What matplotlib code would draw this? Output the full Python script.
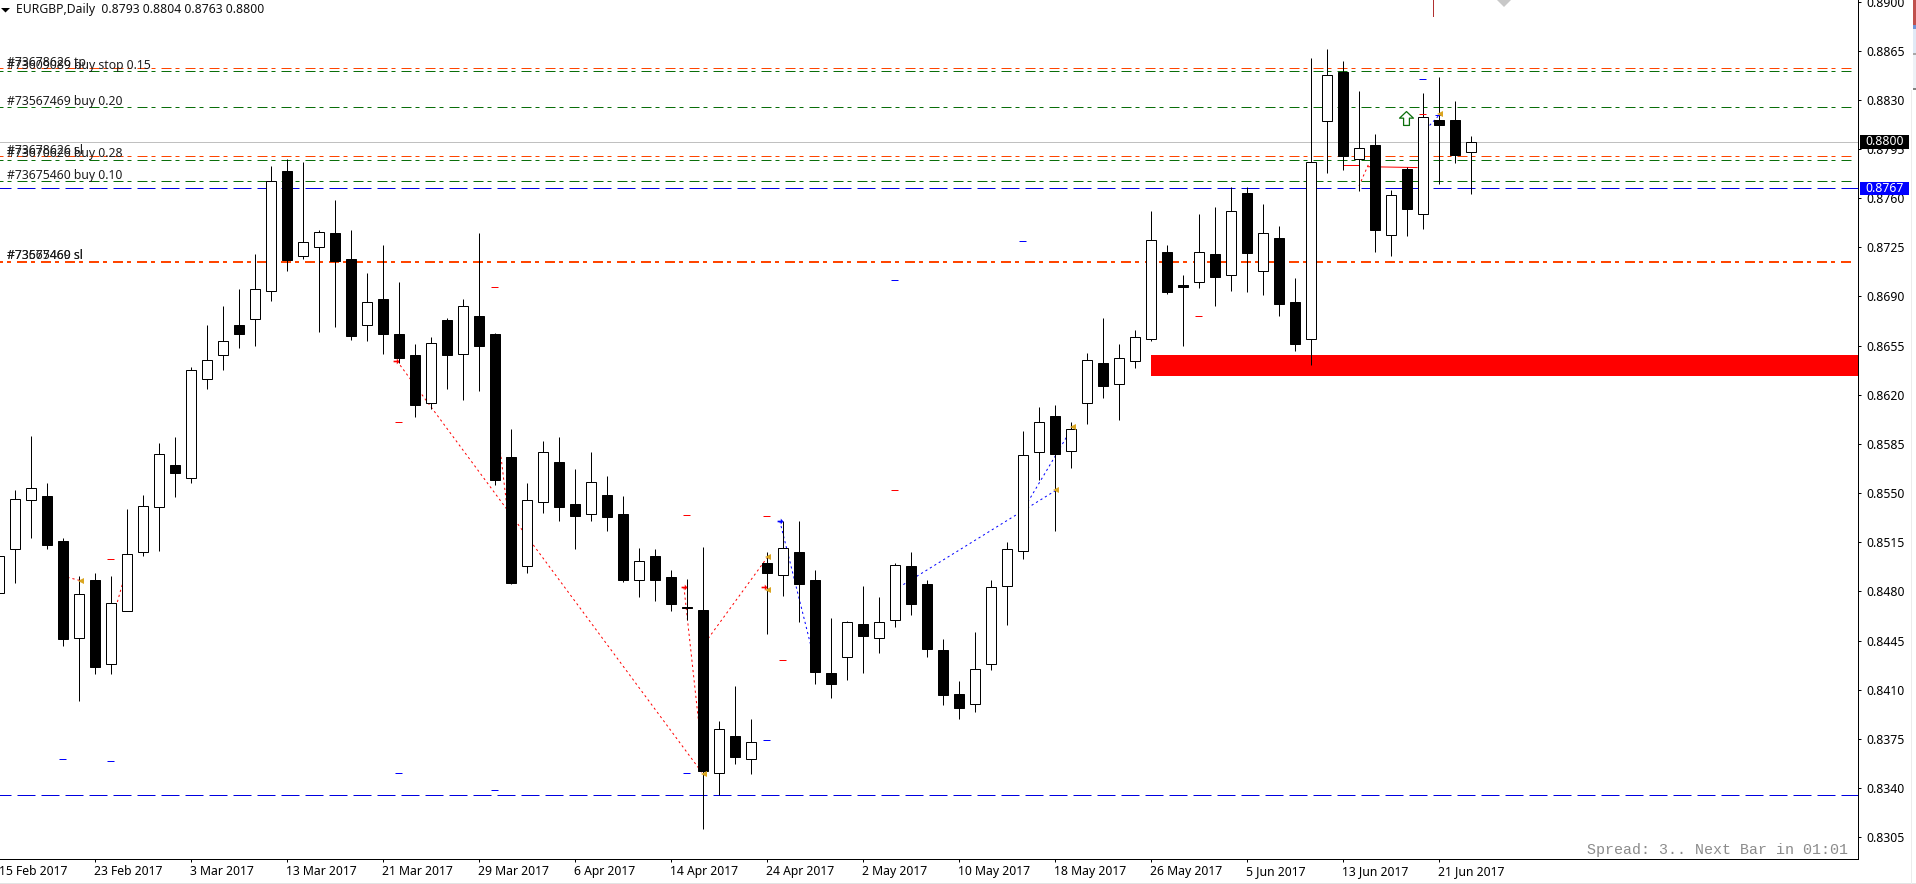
import matplotlib
matplotlib.use("Agg")
import matplotlib.pyplot as plt
from matplotlib.patches import Rectangle, Polygon
from matplotlib.path import Path
from matplotlib.transforms import blended_transform_factory

# Daily EURGBP candles, oldest first
opens = [0.8479, 0.8510, 0.8545, 0.8548, 0.8516, 0.8447, 0.8488, 0.8428, 0.8466, 0.8508,
         0.8540, 0.8570, 0.8561, 0.8631, 0.8648, 0.8670, 0.8674, 0.8694, 0.8779, 0.8719,
         0.8725, 0.8735, 0.8717, 0.8670, 0.8688, 0.8663, 0.8648, 0.8614, 0.8673, 0.8649,
         0.8676, 0.8663, 0.8576, 0.8498, 0.8544, 0.8572, 0.8542, 0.8535, 0.8549, 0.8535,
         0.8488, 0.8505, 0.8490, 0.8469, 0.8467, 0.8351, 0.8377, 0.8361, 0.8500, 0.8492,
         0.8508, 0.8488, 0.8422, 0.8433, 0.8457, 0.8447, 0.8460, 0.8498, 0.8485, 0.8438,
         0.8407, 0.8400, 0.8428, 0.8484, 0.8509, 0.8579, 0.8605, 0.8580, 0.8614, 0.8643,
         0.8628, 0.8644, 0.8660, 0.8722, 0.8698, 0.8700, 0.8720, 0.8705, 0.8764, 0.8708,
         0.8732, 0.8686, 0.8660, 0.8815, 0.8850, 0.8788, 0.8798, 0.8734, 0.8781, 0.8749,
         0.8816, 0.8816, 0.8793]
highs = [0.8511, 0.8552, 0.8591, 0.8557, 0.8518, 0.8491, 0.8493, 0.8491, 0.8539, 0.8549,
         0.8586, 0.8590, 0.8640, 0.8670, 0.8683, 0.8695, 0.8720, 0.8783, 0.8788, 0.8786,
         0.8737, 0.8759, 0.8737, 0.8707, 0.8727, 0.8700, 0.8656, 0.8661, 0.8675, 0.8688,
         0.8735, 0.8664, 0.8596, 0.8557, 0.8587, 0.8590, 0.8567, 0.8579, 0.8562, 0.8548,
         0.8511, 0.8510, 0.8495, 0.8489, 0.8512, 0.8388, 0.8413, 0.8389, 0.8508, 0.8530,
         0.8530, 0.8495, 0.8461, 0.8459, 0.8484, 0.8476, 0.8500, 0.8508, 0.8488, 0.8446,
         0.8416, 0.8451, 0.8488, 0.8515, 0.8594, 0.8611, 0.8613, 0.8601, 0.8650, 0.8675,
         0.8656, 0.8666, 0.8751, 0.8727, 0.8705, 0.8749, 0.8754, 0.8768, 0.8768, 0.8756,
         0.8740, 0.8703, 0.8860, 0.8866, 0.8858, 0.8836, 0.8806, 0.8766, 0.8782, 0.8835,
         0.8846, 0.8829, 0.8804]
lows = [0.8474, 0.8486, 0.8518, 0.8510, 0.8441, 0.8402, 0.8421, 0.8421, 0.8466, 0.8505,
        0.8509, 0.8547, 0.8557, 0.8624, 0.8638, 0.8653, 0.8655, 0.8687, 0.8708, 0.8717,
        0.8665, 0.8668, 0.8659, 0.8658, 0.8649, 0.8643, 0.8604, 0.8610, 0.8624, 0.8616,
        0.8623, 0.8556, 0.8485, 0.8493, 0.8536, 0.8530, 0.8510, 0.8530, 0.8523, 0.8487,
        0.8476, 0.8473, 0.8466, 0.8460, 0.8311, 0.8335, 0.8357, 0.8350, 0.8450, 0.8477,
        0.8458, 0.8414, 0.8404, 0.8417, 0.8422, 0.8436, 0.8455, 0.8463, 0.8433, 0.8399,
        0.8389, 0.8394, 0.8424, 0.8456, 0.8503, 0.8559, 0.8523, 0.8568, 0.8599, 0.8618,
        0.8602, 0.8639, 0.8658, 0.8692, 0.8655, 0.8696, 0.8683, 0.8694, 0.8693, 0.8691,
        0.8676, 0.8651, 0.8641, 0.8778, 0.8780, 0.8765, 0.8722, 0.8719, 0.8733, 0.8738,
        0.8770, 0.8785, 0.8763]
closes = [0.8505, 0.8546, 0.8554, 0.8513, 0.8446, 0.8478, 0.8426, 0.8472, 0.8507, 0.8541,
          0.8578, 0.8564, 0.8638, 0.8645, 0.8658, 0.8663, 0.8695, 0.8772, 0.8716, 0.8729,
          0.8736, 0.8715, 0.8662, 0.8686, 0.8663, 0.8646, 0.8613, 0.8657, 0.8648, 0.8683,
          0.8655, 0.8559, 0.8486, 0.8545, 0.8579, 0.8540, 0.8534, 0.8558, 0.8533, 0.8488,
          0.8502, 0.8488, 0.8471, 0.8468, 0.8352, 0.8382, 0.8362, 0.8373, 0.8493, 0.8511,
          0.8485, 0.8423, 0.8414, 0.8458, 0.8448, 0.8458, 0.8499, 0.8471, 0.8439, 0.8406,
          0.8397, 0.8425, 0.8483, 0.8510, 0.8577, 0.8601, 0.8578, 0.8596, 0.8645, 0.8626,
          0.8646, 0.8661, 0.8730, 0.8693, 0.8697, 0.8722, 0.8704, 0.8751, 0.8721, 0.8735,
          0.8685, 0.8656, 0.8786, 0.8848, 0.8790, 0.8796, 0.8737, 0.8762, 0.8752, 0.8818,
          0.8812, 0.8791, 0.8800]
first_bar = -1  # position of the oldest candle on the bar axis

date_positions = [-1, 5, 11, 17, 23, 29, 35, 41, 47, 53, 59, 65, 71, 77, 83, 89]
date_labels = ["15 Feb 2017", "23 Feb 2017", "3 Mar 2017", "13 Mar 2017", "21 Mar 2017",
               "29 Mar 2017", "6 Apr 2017", "14 Apr 2017", "24 Apr 2017", "2 May 2017",
               "10 May 2017", "18 May 2017", "26 May 2017", "5 Jun 2017", "13 Jun 2017",
               "21 Jun 2017"]
price_ticks = [0.8900, 0.8865, 0.8830, 0.8795, 0.8760, 0.8725, 0.8690, 0.8655, 0.8620,
               0.8585, 0.8550, 0.8515, 0.8480, 0.8445, 0.8410, 0.8375, 0.8340, 0.8305]

# Order levels and their tags
bid_price = 0.8800
ask_level = 0.8767
support_level = 0.83349
stop_thick_level = 0.87146
tp_level = 0.88525
stop_thin_level = 0.87897
buy_levels = [0.88503, 0.88247, 0.87873, 0.8772]
level_tags = [(0.88525, "#73678626 tp"), (0.88503, "#73609089 buy stop 0.15"),
              (0.88247, "#73567469 buy 0.20"), (0.87897, "#73678626 sl"),
              (0.87873, "#73670626 buy 0.28"), (0.8772, "#73675460 buy 0.10"),
              (0.87146, "#73567469 sl"), (0.87146, "#73675460 sl")]
zone_low, zone_high = 0.86334, 0.86484
zone_start_bar = 71.0

# Pending order ticks on individual bars
red_ticks = [(6, 0.8503), (24, 0.8601), (30, 0.8697), (42, 0.85342), (47, 0.8534),
             (55, 0.8552), (48, 0.8431), (74, 0.8676), (88, 0.88197)]
blue_ticks = [(3, 0.83605), (6, 0.8359), (24, 0.83505), (30, 0.83384), (42, 0.83505),
              (47, 0.8374), (55, 0.87018), (63, 0.87295), (88, 0.88446), (89, 0.8819)]

# Closed trades joined from entry to exit
red_trades = [((2.99, 0.8491), (4.13, 0.84877)), ((5.99, 0.84547), (6.99, 0.84953)),
              ((23.91, 0.8644), (42.97, 0.8351)), ((41.84, 0.8483), (43.11, 0.83503)),
              ((42.97, 0.84405), (47.01, 0.85036)), ((29.99, 0.86163), (30.99, 0.85195)),
              ((84.03, 0.87687), (84.66, 0.8785))]
red_solid = [((83.0, 0.87834), (84.0, 0.87834)), ((84.6, 0.87824), (87.66, 0.87818))]
blue_trades = [((47.83, 0.85302), (49.84, 0.84383)), ((55.0, 0.8481), (65.09, 0.8552)),
               ((63.0, 0.85373), (66.14, 0.85973)), ((88.0, 0.88064), (89.09, 0.88197))]
red_entries = [(23.83, 0.8644), (41.83, 0.8483), (46.83, 0.8483)]
blue_entries = [(47.83, 0.8530)]
gold_exits = [(4.13, 0.84877), (43.11, 0.83503), (47.11, 0.85043), (47.11, 0.84808),
              (65.09, 0.8552), (66.14, 0.85973), (89.09, 0.88197)]
signal_arrow = (86.97, 0.8817)

W, H = 1916, 884
PX = 0.72  # points per pixel at 100 dpi
plt.rcParams["lines.scale_dashes"] = False
plt.rcParams["font.family"] = ["Noto Sans", "DejaVu Sans"]

fig = plt.figure(figsize=(W / 100, H / 100), dpi=100, facecolor="white")
left_px, right_px, bottom_px = -20, 1858, 859.3
ax = fig.add_axes([left_px / W, 1 - bottom_px / H, (right_px - left_px) / W, bottom_px / H])
ax.set_facecolor("white")
ax.set_xlim((left_px - 14.5) / 16, (right_px - 14.5) / 16)
ax.set_ylim(0.82893, 0.89011)
for side in ("left", "top"):
    ax.spines[side].set_visible(False)
for side in ("right", "bottom"):
    ax.spines[side].set_linewidth(1.0 * PX)

GREEN, ORANGE, BLUE = "#0a6e0a", "#ff4500", "#0000e0"
DASH_DOT = (6 * PX, (10 * PX, 4 * PX, 4 * PX, 6 * PX))
LONG_DASH = (6 * PX, (18 * PX, 6 * PX))
DOTTED = (0, (2.2 * PX, 3 * PX))
end_frac = (1855 - left_px) / (right_px - left_px)

# Background levels and zone sit under the candles
ax.axhline(bid_price, color="#c0c0c0", lw=1 * PX, zorder=1)
for y in buy_levels:
    ax.axhline(y, xmax=end_frac, color=GREEN, lw=1 * PX, ls=DASH_DOT, dash_capstyle="butt", zorder=1.2)
ax.axhline(tp_level, xmax=end_frac, color=ORANGE, lw=1 * PX, ls=DASH_DOT, dash_capstyle="butt", zorder=1.1)
ax.axhline(stop_thin_level, xmax=end_frac, color=ORANGE, lw=1 * PX, ls=DASH_DOT, dash_capstyle="butt", zorder=1.1)
ax.axhline(stop_thick_level, xmax=end_frac, color=ORANGE, lw=2 * PX, ls=DASH_DOT, dash_capstyle="butt", zorder=1.1)
for y in (ask_level, support_level):
    ax.axhline(y, color=BLUE, lw=1 * PX, ls=LONG_DASH, dash_capstyle="butt", zorder=1.3)
ax.add_patch(Rectangle((zone_start_bar, zone_low), ax.get_xlim()[1] - zone_start_bar, zone_high - zone_low,
                       facecolor="#ff0000", edgecolor="none", zorder=1.5))

for (a, b) in red_trades:
    ax.plot([a[0], b[0]], [a[1], b[1]], color="#ff0000", lw=1 * PX, ls=DOTTED, dash_capstyle="butt", zorder=2)
for (a, b) in red_solid:
    ax.plot([a[0], b[0]], [a[1], b[1]], color="#ff0000", lw=1 * PX, zorder=2)
for (a, b) in blue_trades:
    ax.plot([a[0], b[0]], [a[1], b[1]], color="#0000ff", lw=1 * PX, ls=DOTTED, dash_capstyle="butt", zorder=2)

# Candles: wick first, then an opaque body
for i, (o, h, l, c) in enumerate(zip(opens, highs, lows, closes)):
    x = first_bar + i
    up = c >= o
    ax.plot([x, x], [l, h], color="black", lw=1 * PX, solid_capstyle="butt", zorder=3)
    ax.bar(x, abs(c - o), width=10 / 16, bottom=min(o, c), facecolor="white" if up else "black",
           edgecolor="black", linewidth=1 * PX, zorder=3.1)

# Short order ticks
half_tick = 3.5 / 16
for x, y in red_ticks:
    ax.plot([x - half_tick, x + half_tick], [y, y], color="#ff0000", lw=1 * PX, solid_capstyle="butt", zorder=3.2)
for x, y in blue_ticks:
    ax.plot([x - half_tick, x + half_tick], [y, y], color="#0000ff", lw=1 * PX, solid_capstyle="butt", zorder=3.2)

# Entry arrows, exit flags and the signal arrow
right_arrow = Path([(-1, -0.28), (0.1, -0.28), (0.1, -1), (1, 0), (0.1, 1), (0.1, 0.28), (-1, 0.28), (-1, -0.28)], closed=True)
up_arrow = Path([(-0.42, -1), (0.42, -1), (0.42, 0.05), (1, 0.05), (0, 1), (-1, 0.05), (-0.42, 0.05), (-0.42, -1)], closed=True)
for x, y in red_entries:
    ax.plot(x, y, marker=right_arrow, ms=4.2, color="#ff0000", mew=0, zorder=4)
for x, y in blue_entries:
    ax.plot(x, y, marker=right_arrow, ms=4.2, color="#0000ff", mew=0, zorder=4)
for x, y in gold_exits:
    ax.plot(x, y, marker="<", ms=4.4, color="#daa520", mew=0, zorder=4)
ax.plot(*signal_arrow, marker=up_arrow, ms=10, mfc="white", mec=GREEN, mew=0.9, zorder=4)

# Order tags above their levels
tag_x = (7 - 14.5) / 16
for y, tag in level_tags:
    ax.annotate(tag, xy=(tag_x, y), xytext=(0, 2.7 * PX), textcoords="offset points", fontsize=8.8,
                color="#1c1c1c", va="baseline", ha="left", zorder=5)

# Axes
ax.yaxis.tick_right()
ax.set_yticks(price_ticks)
ax.set_yticklabels([f"{p:.4f}" for p in price_ticks])
ax.tick_params(axis="y", length=3 * PX, width=1 * PX, pad=5 * PX, labelsize=8.8, colors="black")
ax.set_xticks(date_positions[1:])
ax.set_xticklabels(date_labels[1:], ha="left")
ax.tick_params(axis="x", length=3 * PX, width=1 * PX, pad=2.5 * PX, labelsize=8.8, colors="black")
ax.annotate(date_labels[0], xy=(date_positions[0], 0), xycoords=ax.get_xaxis_transform(),
            xytext=(0, -5.5 * PX), textcoords="offset points", fontsize=8.8, ha="left", va="top",
            annotation_clip=False)

# Price tags over the axis
yt = blended_transform_factory(ax.transAxes, ax.transData)
ax_w = right_px - left_px
price_per_px = 1 / 14046
for price, text, fc in [(bid_price, "0.8800", "black"), (ask_level, "0.8767", "#0000ff")]:
    ax.add_patch(Rectangle(((1860 - left_px) / ax_w, price - 6.8 * price_per_px), 49 / ax_w, 13.6 * price_per_px,
                           transform=yt, facecolor=fc, edgecolor="none", clip_on=False, zorder=6))
    ax.text((1865.7 - left_px) / ax_w, price, text, transform=yt, fontsize=8.8, color="white",
            va="center", ha="left", clip_on=False, zorder=7)

# Title line and status line
fig.add_artist(Polygon([(1 / W, 1 - 8 / H), (10 / W, 1 - 8 / H), (5.5 / W, 1 - 12.5 / H)], closed=True,
                       transform=fig.transFigure, facecolor="black", edgecolor="none"))
fig.text(16 / W, 1 - 13.3 / H, "EURGBP,Daily  0.8793 0.8804 0.8763 0.8800", fontsize=8.8, color="#111111", va="baseline")
fig.text(1848 / W, 1 - 854 / H, "Spread: 3.. Next Bar in 01:01", fontsize=10.8, family="Liberation Mono",
         color="#8c8c8c", ha="right", va="baseline")

# Objects just above the top of the price range, and the window edges
fig.add_artist(Polygon([(1497 / W, 1), (1511 / W, 1), (1504 / W, 1 - 7 / H)], closed=True,
                       transform=fig.transFigure, facecolor="#c8c8c8", edgecolor="none"))
fig.add_artist(Rectangle((1433 / W, 1 - 17 / H), 1 / W, 17 / H, transform=fig.transFigure,
                         facecolor="#b03030", edgecolor="none"))
for x0, y0, x1, y1, col in [(0, 883, W, 884, "#e3e3e3"), (1911, 90, 1912, 884, "#ececec"),
                            (1913, 0, W, 25, "#c0504d"), (1913, 25, W, 29, "#6f94d6"),
                            (1913, 29, W, 53, "#e1eaf6"), (1913, 53, W, 55, "#a8a8a8"),
                            (1913, 55, W, 88, "#eef1f6"), (1913, 88, W, 90, "#808080")]:
    fig.add_artist(Rectangle((x0 / W, 1 - y1 / H), (x1 - x0) / W, (y1 - y0) / H, transform=fig.transFigure,
                             facecolor=col, edgecolor="none"))

fig.savefig("out.png", dpi=100, facecolor="white")
